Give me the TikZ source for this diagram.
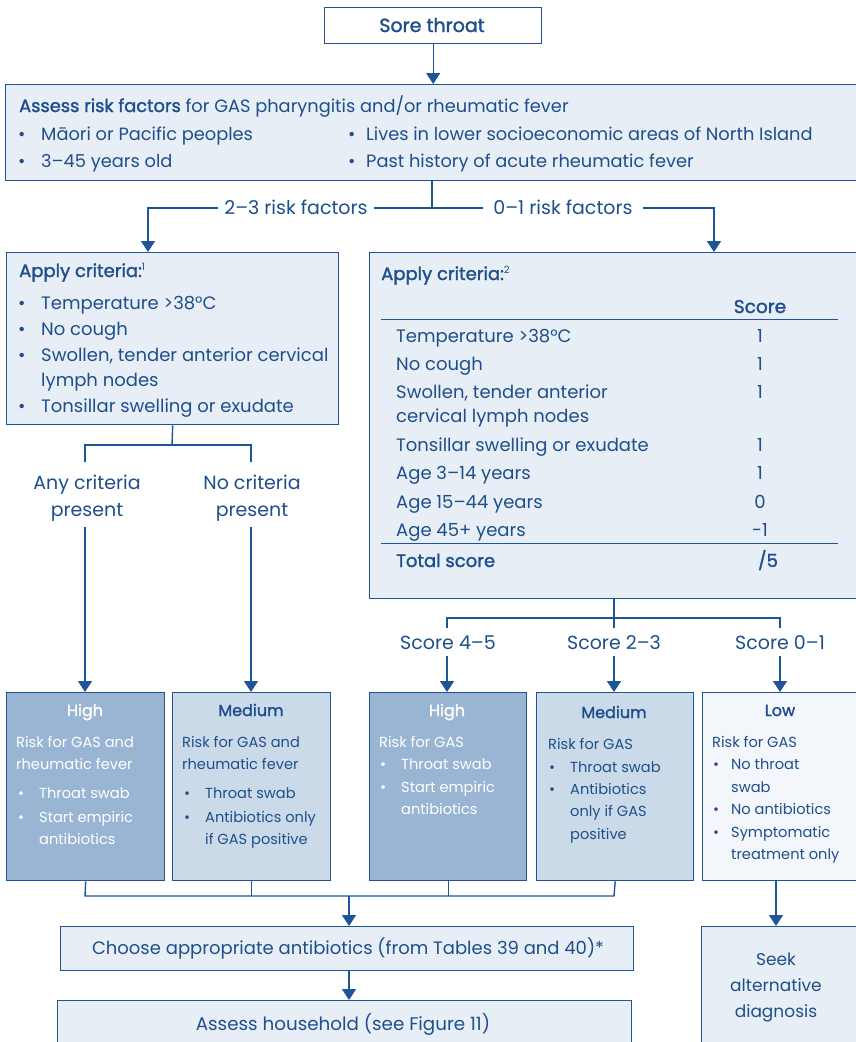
\documentclass[tikz,border=0pt]{standalone}
\usepackage{fontspec}
\setmainfont{Poppins}
\newfontfamily\medf[FakeBold=1.6]{Poppins}
\usetikzlibrary{arrows.meta}
\definecolor{dblue}{HTML}{1F5596}
\definecolor{tblue}{HTML}{1E4F8C}
\definecolor{lfill}{HTML}{E8EEF6}
\definecolor{hfill}{HTML}{99B5D3}
\definecolor{mfill}{HTML}{CBDAE8}
\definecolor{lowfill}{HTML}{F3F6FA}
\newcommand\fA{\fontsize{17.8}{21}\selectfont}
\newcommand\fB{\fontsize{18}{21}\selectfont}
\newcommand\fC{\fontsize{14.6}{17}\selectfont}
\newcommand\fL{\fontsize{19}{22}\selectfont}
\newcommand\fH{\medf\fontsize{16}{19}\selectfont}
\newcommand\bu[1]{\makebox[#1][l]{•}}
\newcommand\sups[1]{{\fontsize{10}{10}\selectfont\raisebox{7pt}{#1}}}
\begin{document}
\begin{tikzpicture}[x=1pt,y=-1pt,
  box/.style={draw=dblue,line width=1.4pt,inner sep=0pt,anchor=north west},
  conn/.style={draw=dblue,line width=1.4pt},
  arr/.style={conn,-{Triangle[width=14pt,length=11pt]}},
  thinrule/.style={draw=dblue,line width=0.9pt},
  tA/.style={inner sep=0pt,text=tblue,font=\fA,anchor=base west},
  tB/.style={inner sep=0pt,text=tblue,font=\fB,anchor=base west},
  tC/.style={inner sep=0pt,text=tblue,font=\fC,anchor=base west},
  tL/.style={inner sep=0pt,text=tblue,font=\fL,anchor=base},
  tCw/.style={tC,text=white},
  ctr/.style={anchor=base}]
\useasboundingbox (0,0) rectangle (856,1042);
\fill[white] (0,0) rectangle (856,1042);

% boxes
\node[box,fill=white,minimum width=217pt,minimum height=36pt] (sore) at (324,7) {};
\node[box,fill=lfill,minimum width=860pt,minimum height=96pt] (assess) at (5,84) {};
\node[box,fill=lfill,minimum width=332pt,minimum height=172pt] (critL) at (6,252) {};
\node[box,fill=lfill,minimum width=500pt,minimum height=346pt] (critR) at (369,252) {};
\node[box,fill=hfill,minimum width=158pt,minimum height=188pt] (b1) at (6,692) {};
\node[box,fill=mfill,minimum width=158pt,minimum height=188pt] (b2) at (172,692) {};
\node[box,fill=hfill,minimum width=157pt,minimum height=188pt] (b3) at (369,692) {};
\node[box,fill=mfill,minimum width=157pt,minimum height=188pt] (b4) at (536,692) {};
\node[box,fill=lowfill,minimum width=160pt,minimum height=188pt] (b5) at (702,692) {};
\node[box,fill=lfill,minimum width=573pt,minimum height=44pt] (choose) at (60,926) {};
\node[box,fill=lfill,minimum width=574pt,minimum height=60pt] (house) at (57,1000) {};
\node[box,fill=lfill,minimum width=160pt,minimum height=130pt] (seek) at (701,926) {};

% top texts
\node[tA,ctr,font=\medf\fontsize{19}{22}\selectfont] (t0) at (432,32) {Sore throat};
\draw[arr] (sore.south) -- (sore.south |- assess.north);
\node[tA] (t1) at (19,112) {{\medf Assess risk factors} for GAS pharyngitis and/or rheumatic fever};
\node[tA] (t2) at (18,140) {\bu{23pt}Māori or Pacific peoples};
\node[tA] (t3) at (18,167) {\bu{23pt}3–45 years old};
\node[tA] (t4) at (348,140) {\bu{18pt}Lives in lower socioeconomic areas of North Island};
\node[tA] (t5) at (348,167) {\bu{18pt}Past history of acute rheumatic fever};

% branch
\coordinate (split) at (432,208);
\coordinate (aL) at (148,208);
\coordinate (aR) at (714,208);
\node[tL,inner xsep=6pt] (l23) at (296,214) {2–3 risk factors};
\node[tL,inner xsep=10pt] (l01) at (563,214) {0–1 risk factors};
\draw[conn] (assess.south -| split) -- (split);
\draw[conn] (split) -- (l23.east |- split);
\draw[conn] (split) -- (l01.west |- split);
\draw[arr] (l23.west |- aL) -- (aL) -- (aL |- critL.north);
\draw[arr] (l01.east |- aR) -- (aR) -- (aR |- critR.north);

% left criteria
\node[tB] (c0) at (19,277) {{\medf Apply criteria:}\sups{1}};
\node[tB] (c1) at (18,309) {\bu{23pt}Temperature >38°C};
\node[tB] (c2) at (18,335) {\bu{23pt}No cough};
\node[tB] (c3) at (18,361) {\bu{23pt}Swollen, tender anterior cervical};
\node[tB] (c4) at (41,386) {lymph nodes};
\node[tB] (c5) at (18,412) {\bu{23pt}Tonsillar swelling or exudate};

\coordinate (jL) at (172,445);
\coordinate (jLa) at (85,445);
\coordinate (jLb) at (251,445);
\node[tL] (any1) at (87,489) {Any criteria};
\node[tL] (any2) at (87,516) {present};
\node[tL] (no1) at (252,489) {No criteria};
\node[tL] (no2) at (252,516) {present};
\coordinate (jLa2) at (85,462);
\coordinate (jLb2) at (251,462);
\coordinate (sLa) at (85,527);
\coordinate (sLb) at (251,527);
\draw[conn] (critL.south) -- (jL);
\draw[conn] (jLa2) -- (jLa) -- (jLb) -- (jLb2);
\draw[arr] (sLa) -- (sLa |- b1.north);
\draw[arr] (sLb) -- (sLb |- b2.north);

% right criteria
\node[tB] (r0) at (381,280) {{\medf Apply criteria:}\sups{2}};
\node[tB,ctr] (rs) at (760,313) {{\medf\fontsize{18.5}{21}\selectfont Score}};
\coordinate (ru1a) at (381,319); \coordinate (ru1b) at (838,319);
\coordinate (ru2a) at (381,543); \coordinate (ru2b) at (838,543);
\draw[thinrule] (ru1a) -- (ru1b);
\draw[thinrule] (ru2a) -- (ru2b);
\node[tB] (r1) at (396,342) {Temperature >38°C};
\node[tB] (r2) at (396,370) {No cough};
\node[tB] (r3) at (396,398) {Swollen, tender anterior};
\node[tB] (r3b) at (396,422) {cervical lymph nodes};
\node[tB] (r4) at (396,451) {Tonsillar swelling or exudate};
\node[tB] (r5) at (396,479) {Age 3–14 years};
\node[tB] (r6) at (396,508) {Age 15–44 years};
\node[tB] (r7) at (396,536) {Age 45+ years};
\node[tB,ctr] (s1) at (760,342) {1};
\node[tB,ctr] (s2) at (760,370) {1};
\node[tB,ctr] (s3) at (760,398) {1};
\node[tB,ctr] (s4) at (760,451) {1};
\node[tB,ctr] (s5) at (760,479) {1};
\node[tB,ctr] (s6) at (760,508) {0};
\node[tB,ctr] (s7) at (760,536) {-1};
\node[tB] (rt) at (396,567) {{\medf Total score}};
\node[tB,ctr] (rt5) at (768,567) {{\medf /5}};

\coordinate (jR) at (614,618);
\coordinate (jRa) at (447,618);
\coordinate (jRc) at (780,618);
\coordinate (jRa2) at (447,628);
\coordinate (jRb2) at (614,628);
\coordinate (jRc2) at (780,628);
\node[tL] (sc1) at (448,649) {Score 4–5};
\node[tL] (sc2) at (614,649) {Score 2–3};
\node[tL] (sc3) at (780,649) {Score 0–1};
\coordinate (sRa) at (447,656);
\coordinate (sRb) at (614,656);
\coordinate (sRc) at (780,656);
\draw[conn] (critR.south -| jR) -- (jR);
\draw[conn] (jRa2) -- (jRa) -- (jRc) -- (jRc2);
\draw[conn] (jR) -- (jRb2);
\draw[arr] (sRa) -- (sRa |- b3.north);
\draw[arr] (sRb) -- (sRb |- b4.north);
\draw[arr] (sRc) -- (sRc |- b5.north);

% bottom box texts
\node[tCw,ctr,font=\fH] (h1) at (85,716) {High};
\node[tCw] (h1a) at (16,747) {Risk for GAS and};
\node[tCw] (h1b) at (16,769) {rheumatic fever};
\node[tCw] (h1c) at (18,798) {\bu{21pt}Throat swab};
\node[tCw] (h1d) at (18,822) {\bu{21pt}Start empiric};
\node[tCw] (h1e) at (39,844) {antibiotics};

\node[tC,ctr,font=\fH] (m1) at (251,716) {Medium};
\node[tC] (m1a) at (182,747) {Risk for GAS and};
\node[tC] (m1b) at (182,769) {rheumatic fever};
\node[tC] (m1c) at (184,798) {\bu{21pt}Throat swab};
\node[tC] (m1d) at (184,822) {\bu{21pt}Antibiotics only};
\node[tC] (m1e) at (205,844) {if GAS positive};

\node[tCw,ctr,font=\fH] (h2) at (447,716) {High};
\node[tCw] (h2a) at (379,747) {Risk for GAS};
\node[tCw] (h2b) at (380,769) {\bu{21pt}Throat swab};
\node[tCw] (h2c) at (380,792) {\bu{21pt}Start empiric};
\node[tCw] (h2d) at (401,814) {antibiotics};

\node[tC,ctr,font=\fH] (m2) at (614,718) {Medium};
\node[tC] (m2a) at (548,749) {Risk for GAS};
\node[tC] (m2b) at (549,772) {\bu{21pt}Throat swab};
\node[tC] (m2c) at (549,794) {\bu{21pt}Antibiotics};
\node[tC] (m2d) at (570,816) {only if GAS};
\node[tC] (m2e) at (570,839) {positive};

\node[tC,ctr,font=\fH] (lo) at (780,716) {Low};
\node[tC] (loa) at (712,747) {Risk for GAS};
\node[tC] (lob) at (713,769) {\bu{18pt}No throat};
\node[tC] (loc) at (731,792) {swab};
\node[tC] (lod) at (713,814) {\bu{18pt}No antibiotics};
\node[tC] (loe) at (713,837) {\bu{18pt}Symptomatic};
\node[tC] (lof) at (731,859) {treatment only};

% bottom connectors
\coordinate (jB) at (349,896);
\coordinate (jBa) at (85,896);
\coordinate (jBd) at (614,896);
\draw[conn] (b1.south) -- (jBa) -- (jBd) -- (b4.south);
\draw[conn] (b2.south) -- (b2.south |- jB);
\draw[conn] (b3.south) -- (b3.south |- jB);
\draw[arr] (jB) -- (jB |- choose.north);
\draw[arr] (jB |- choose.south) -- (jB |- house.north);
\coordinate (jS) at (776,880);
\draw[arr] (jS) -- (jS |- seek.north);

\node[tA,ctr,font=\fontsize{18}{21}\selectfont] (ch) at (348,954) {Choose appropriate antibiotics (from Tables 39 and 40)*};
\node[tA,ctr,font=\fontsize{18.3}{21}\selectfont] (ho) at (343,1030) {Assess household (see Figure 11)};
\node[tA,ctr,font=\fontsize{17}{20}\selectfont] (sk1) at (776,965) {Seek};
\node[tA,ctr,font=\fontsize{17}{20}\selectfont] (sk2) at (776,991) {alternative};
\node[tA,ctr,font=\fontsize{17}{20}\selectfont] (sk3) at (776,1017) {diagnosis};
\end{tikzpicture}
\end{document}
